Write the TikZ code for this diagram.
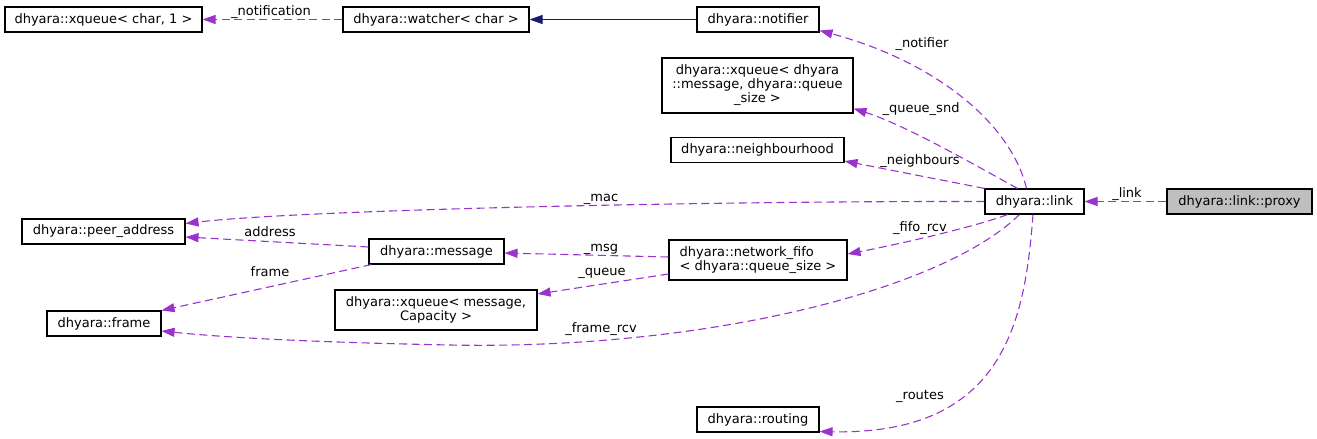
\documentclass[tikz,border=0pt]{standalone}
\usepackage{fontspec}
\setmainfont{DejaVu Sans}
\usetikzlibrary{arrows.meta}
\definecolor{usecol}{HTML}{9A32CD}
\definecolor{inhcol}{HTML}{191970}

\begin{document}
\begin{tikzpicture}[x=1pt, y=-1pt, font=\fontsize{13}{14}\selectfont,
	cls/.style={rectangle, draw=black, line width=1.1pt, inner sep=0pt, minimum height=25pt, align=center},
	rel/.style={draw=usecol, line width=1.1pt, dash pattern=on 8pt off 4.5pt, -{Triangle[length=13pt,width=9pt]}},
	derived/.style={draw=inhcol, line width=1.1pt, -{Triangle[length=13pt,width=9pt]}},
	lbl/.style={inner sep=0pt, anchor=base}]
				\useasboundingbox (0,0) rectangle (1317,439);
				
				\node[cls, minimum width=197pt] (xqchar) at (103.5,19.5) {dhyara::xqueue< char, 1 >};
				\node[cls, minimum width=186pt] (watcher) at (436,19.5) {dhyara::watcher< char >};
				\node[cls, minimum width=122pt] (notifier) at (758,19.5) {dhyara::notifier};
				\node[cls, minimum width=191pt, minimum height=55pt] (xqmsg) at (757.5,85.5) {dhyara::xqueue< dhyara\\::message, dhyara::queue\\\_size >};
				\node[cls, minimum width=173pt] (neighbourhood) at (757.5,150) {dhyara::neighbourhood};
				\node[cls, minimum width=99pt] (link) at (1034.5,201.5) {dhyara::link};
				\node[cls, minimum width=145pt, fill=gray!50] (proxy) at (1239.5,201.5) {dhyara::link::proxy};
				\node[cls, minimum width=163pt] (peeraddr) at (103.5,231.5) {dhyara::peer\_address};
				\node[cls, minimum width=135pt] (message) at (436.5,251.5) {dhyara::message};
				\node[cls, minimum width=178pt, minimum height=40pt, align=left] (fifo) at (758,260) {dhyara::network\_fifo\\< dhyara::queue\_size >};
				\node[cls, minimum width=202pt, minimum height=40pt] (xqcap) at (436,310) {dhyara::xqueue< message,\\Capacity >};
				\node[cls, minimum width=114pt] (frame) at (104,323.5) {dhyara::frame};
				\node[cls, minimum width=122pt] (routing) at (758,419.5) {dhyara::routing};
				
				% relations
				\draw[rel] (watcher.west) -- (xqchar.east);
				\draw[derived] (notifier.west) -- (watcher.east);
				\draw[rel] ([xshift=-8pt]link.north) .. controls (1010,120) and (930,60) .. ([yshift=2pt]notifier.south east);
				\draw[rel] ([xshift=-17pt]link.north) .. controls (975,165) and (905,125) .. ([yshift=5pt]xqmsg.south east);
				\draw[rel] (link.north west) -- ([yshift=2pt]neighbourhood.south east);
				\draw[rel] (link.west) .. controls (700,201) and (300,210) .. ([yshift=8pt]peeraddr.east);
				\draw[rel] ([xshift=-27pt]link.south) .. controls (980,225) and (910,242) .. ([yshift=6pt]fifo.east);
				\draw[rel] ([xshift=-15pt]link.south) .. controls (940,292) and (700,350) .. (450,345) .. controls (300,342) and (220,337) .. ([yshift=-7.5pt]frame.east);
				\draw[rel] ([xshift=-1.5pt]link.south) .. controls (1025,320) and (1005,435) .. ([yshift=1pt]routing.south east);
				\draw[rel] (proxy.west) -- (link.east);
				\draw[rel] ([yshift=4.5pt]message.west) -- ([yshift=-5.5pt]peeraddr.east);
				\draw[rel] ([xshift=3pt]message.south west) -- (frame.north east);
				\draw[rel] ([yshift=3pt]fifo.west) -- ([yshift=-1.5pt]message.east);
				\draw[rel] ([yshift=-14pt]fifo.west) -- ([yshift=16pt]xqcap.east);
				
				% labels
				\node[lbl] (lnotification) at (271,16) {\_notification};
				\node[lbl] (lnotifier) at (922,47) {\_notifier};
				\node[lbl] (lqueuesnd) at (921,112) {\_queue\_snd};
				\node[lbl] (lneighbours) at (920,164) {\_neighbours};
				\node[lbl] (lmac) at (601,201) {\_mac};
				\node[lbl] (llink) at (1127,197) {\_link};
				\node[lbl] (lfiforcv) at (920,231) {\_fifo\_rcv};
				\node[lbl] (laddress) at (270,236) {address};
				\node[lbl] (lmsg) at (601,251) {\_msg};
				\node[lbl] (lframe) at (270,276) {frame};
				\node[lbl] (lqueue) at (602,275) {\_queue};
				\node[lbl] (lframercv) at (601,332) {\_frame\_rcv};
				\node[lbl] (lroutes) at (920,399) {\_routes};
			\end{tikzpicture}
\end{document}
